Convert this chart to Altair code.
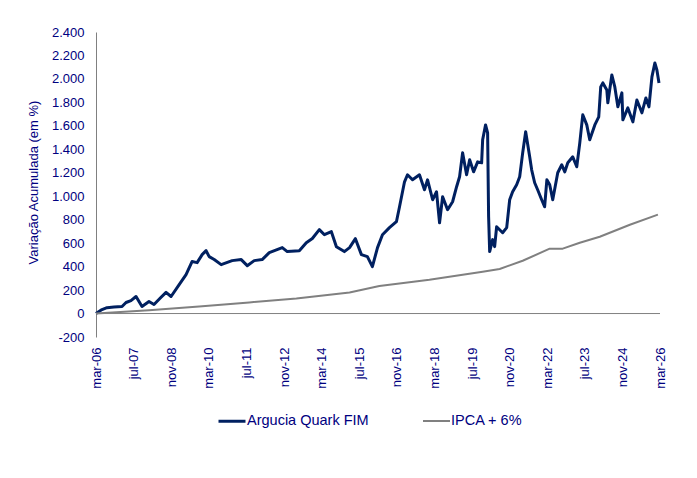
import json
import pandas as pd
import altair as alt

# ---------------- data ----------------
series_names = ["Argucia Quark FIM", "IPCA + 6%"]
series_colors = ["#002060", "#808080"]

fund_dates = [
    "2006-03-01", "2006-05-18", "2006-07-22", "2006-10-21", "2007-02-03", "2007-03-25",
    "2007-05-28", "2007-08-02", "2007-10-19", "2008-01-18", "2008-03-22", "2008-06-09",
    "2008-08-26", "2008-10-30", "2009-02-12", "2009-05-11", "2009-07-28", "2009-10-02",
    "2009-12-06", "2010-01-27", "2010-03-06", "2010-05-10", "2010-08-09", "2010-12-30",
    "2011-04-25", "2011-07-12", "2011-10-11", "2012-01-23", "2012-04-23", "2012-10-09",
    "2012-12-13", "2013-05-17", "2013-08-16", "2013-11-03", "2014-02-02", "2014-04-07",
    "2014-07-06", "2014-09-10", "2014-12-22", "2015-02-26", "2015-05-13", "2015-07-30",
    "2015-10-16", "2015-12-20", "2016-02-24", "2016-04-28", "2016-07-28", "2016-10-27",
    "2016-12-06", "2017-02-09", "2017-03-18", "2017-05-22", "2017-08-21", "2017-10-25",
    "2017-12-04", "2018-02-08", "2018-03-29", "2018-05-07", "2018-06-16", "2018-08-20",
    "2018-10-24", "2018-12-15", "2019-01-23", "2019-03-01", "2019-04-22", "2019-06-01",
    "2019-07-22", "2019-09-13", "2019-11-04", "2019-11-17", "2019-12-25", "2020-01-21",
    "2020-02-03", "2020-02-16", "2020-03-25", "2020-04-20", "2020-05-16", "2020-08-02",
    "2020-09-24", "2020-11-02", "2020-12-10", "2021-02-01", "2021-03-10", "2021-04-18",
    "2021-05-27", "2021-07-18", "2021-08-13", "2021-09-21", "2021-10-30", "2021-12-21",
    "2022-01-29", "2022-02-25", "2022-04-03", "2022-05-12", "2022-07-16", "2022-09-07",
    "2022-10-16", "2022-11-24", "2023-01-28", "2023-03-19", "2023-04-27", "2023-06-05",
    "2023-07-27", "2023-09-04", "2023-11-09", "2023-12-30", "2024-01-25", "2024-02-21",
    "2024-04-12", "2024-04-25", "2024-06-16", "2024-07-25", "2024-09-03", "2024-10-25",
    "2024-11-07", "2025-01-11", "2025-03-15", "2025-05-06", "2025-07-10", "2025-09-01",
    "2025-10-10", "2025-11-18", "2025-12-26", "2026-01-22", "2026-02-17",
]
fund_values = [
    0, 34, 50, 55, 60, 94,
    110, 145, 60, 102, 77, 130,
    180, 145, 247, 332, 443, 434,
    502, 536, 485, 460, 417, 451,
    460, 408, 451, 460, 519, 562,
    528, 535, 604, 640, 715, 672,
    698, 570, 528, 562, 638, 502,
    485, 400, 562, 672, 732, 783,
    910, 1123, 1183, 1140, 1183, 1055,
    1140, 970, 1038, 774, 996, 885,
    953, 1081, 1166, 1370, 1183, 1311,
    1208, 1293, 1285, 1481, 1608, 1540,
    825, 528, 630, 570, 740, 689,
    732, 970, 1038, 1098, 1166, 1370,
    1549, 1336, 1225, 1115, 1055, 970,
    910, 1140, 1098, 970, 1200, 1268,
    1208, 1285, 1336, 1251, 1455, 1694,
    1608, 1481, 1608, 1677, 1932, 1966,
    1906, 1796, 2034, 1932, 1762, 1881,
    1651, 1753, 1634, 1821, 1711, 1838,
    1762, 2017, 2136, 2076, 1966,
]

ipca_dates = [
    "2006-03-01", "2008-01-18", "2009-10-28", "2011-08-07", "2013-04-09", "2015-02-26",
    "2016-03-19", "2017-12-28", "2019-11-17", "2020-06-24", "2021-04-18", "2022-04-03",
    "2022-09-19", "2023-04-27", "2024-01-12", "2025-02-06", "2026-02-04",
]
ipca_values = [0, 28, 60, 95, 128, 179, 235, 289, 357, 380, 450, 553, 553, 604, 655, 757, 843]

x_tick_labels = ["mar-06", "jul-07", "nov-08", "mar-10", "jul-11", "nov-12", "mar-14", "jul-15",
                 "nov-16", "mar-18", "jul-19", "nov-20", "mar-22", "jul-23", "nov-24", "mar-26"]
y_ticks = [-200, 0, 200, 400, 600, 800, 1000, 1200, 1400, 1600, 1800, 2000, 2200, 2400]


def months_from_start(d):
    t = pd.Timestamp(d)
    return (t.year - 2006) * 12 + (t.month - 3) + (t.day - 1) / t.days_in_month


rows = []
for d, v in zip(fund_dates, fund_values):
    rows.append({"series": series_names[0], "m": months_from_start(d), "v": v})
for d, v in zip(ipca_dates, ipca_values):
    rows.append({"series": series_names[1], "m": months_from_start(d), "v": v})
df = pd.DataFrame(rows)

TEXT = "#000080"
FONT = "Liberation Sans"
tick_positions = [16 * i for i in range(len(x_tick_labels))]
x_label_expr = json.dumps(x_tick_labels) + "[round(datum.value / 16)]"

y_scale = alt.Scale(domain=[-200, 2400], nice=False)
y_axis = alt.Axis(
    values=y_ticks,
    labelExpr="replace(replace(format(datum.value, ','), ',', '.'), '\u2212', '-')",
    ticks=False, tickSize=0, grid=False, domainColor="#808080", domainWidth=1,
    labelPadding=12, labelFontSize=13, labelColor=TEXT, labelFont=FONT,
    title="Variação Acumulada (em %)", titleFontSize=13, titleFontWeight="normal",
    titleColor=TEXT, titleFont=FONT, titleAngle=270, titleX=-63, titleY=150,
    titleAlign="center", titleBaseline="middle",
)

zero_rule = alt.Chart(pd.DataFrame({"v": [0]})).mark_rule(color="#808080", strokeWidth=1).encode(
    y=alt.Y("v:Q", scale=y_scale, axis=y_axis)
)

lines = alt.Chart(df).mark_line(strokeJoin="round").encode(
    x=alt.X(
        "m:Q",
        scale=alt.Scale(domain=[0, 240], nice=False, zero=False),
        axis=alt.Axis(
            values=tick_positions, labelExpr=x_label_expr, labelAngle=-90,
            domain=False, ticks=False, tickSize=0, grid=False, title=None,
            labelPadding=10, labelFontSize=13, labelColor=TEXT, labelFont=FONT,
        ),
    ),
    y=alt.Y("v:Q", scale=y_scale, axis=y_axis),
    color=alt.Color(
        "series:N",
        scale=alt.Scale(domain=series_names, range=series_colors),
        legend=alt.Legend(
            orient="none", legendX=121, legendY=374, direction="horizontal", title=None,
            symbolType="stroke", symbolSize=729, symbolStrokeWidth=3,
            labelFontSize=14.5, labelColor=TEXT, labelFont=FONT, labelOffset=0,
            columnPadding=50, padding=0,
        ),
    ),
    strokeWidth=alt.StrokeWidth(
        "series:N", scale=alt.Scale(domain=series_names, range=[3, 2]), legend=None
    ),
)

chart = alt.layer(zero_rule, lines).properties(
    width=564, height=305, autosize="none", background="white",
    padding={"left": 88, "top": 24, "right": 29, "bottom": 133},
).configure_view(stroke=None)

chart.save("out.html", embed_options={"renderer": "svg", "actions": False})
